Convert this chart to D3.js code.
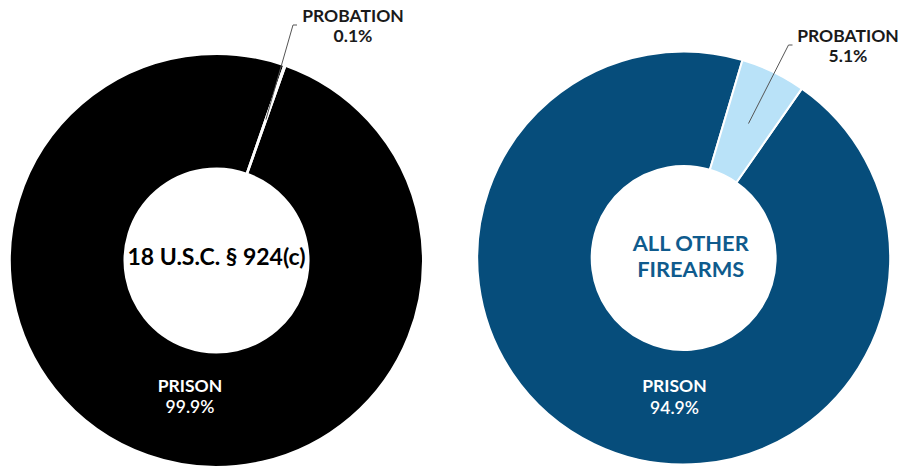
<!DOCTYPE html>
<html>
<head>
<meta charset="utf-8">
<script src="https://cdn.jsdelivr.net/npm/d3@7"></script>
<style>
  body { margin: 0; background: #fff; }
  svg { display: block; font-family: Lato, "Open Sans", sans-serif; }
</style>
</head>
<body>
<svg id="chart" width="901" height="469"></svg>
<script>
// data
const categories = ["PRISON", "PROBATION"];
const offenseLabels = [["18 U.S.C. § 924(c)"], ["ALL OTHER", "FIREARMS"]];
const leftValues = [99.9, 0.1];
const rightValues = [94.9, 5.1];
const valueLabels = [["99.9%", "0.1%"], ["94.9%", "5.1%"]];

const svg = d3.select('#chart');

const donuts = [
    { values: leftValues, cx: 216.5, cy: 260.5, r: 206.5, r0: 92, rot: 19.5,
      colors: ['#000000', '#e6e6e6'], titleColor: '#000000', titleDx: 0, titleDy: 4.5, titleSize: 23,
      prisonPos: [190, 391.5], probPos: [353, 21.5], leaderEnd: [293, 25] },
    { values: rightValues, cx: 683.7, cy: 258, r: 206.5, r0: 92, rot: 34.9,
      colors: ['#064d7b', '#b9e2f8'], titleColor: '#0f5b8d', titleDx: 7, titleDy: 6.2, titleSize: 21.8,
      prisonPos: [674.5, 392], probPos: [848, 41.5], leaderEnd: [788.5, 45] }
];

donuts.forEach((d, k) => {
    const g = svg.append('g').attr('transform', `translate(${d.cx},${d.cy})`);
    const pie = d3.pie().sort(null)
        .startAngle(d.rot * Math.PI / 180)
        .endAngle(d.rot * Math.PI / 180 + 2 * Math.PI);
    const arc = d3.arc().innerRadius(d.r0).outerRadius(d.r);
    const arcs = pie(d.values);

    g.selectAll('path')
        .data(arcs)
        .join('path')
        .attr('d', arc)
        .attr('fill', (a, i) => d.colors[i])
        .attr('stroke', '#fff')
        .attr('stroke-width', 2);

    // leader line for the small slice
    const c = arc.centroid(arcs[1]);
    const ex = d.leaderEnd[0] - d.cx, ey = d.leaderEnd[1] - d.cy;
    g.append('polyline')
        .attr('points', `${c[0]},${c[1]} ${ex},${ey} ${ex + 4},${ey}`)
        .attr('fill', 'none')
        .attr('stroke', '#555')
        .attr('stroke-width', 1);

    // centre title
    const lines = offenseLabels[k];
    const lh = 26.2;
    g.append('text')
        .attr('text-anchor', 'middle')
        .attr('fill', d.titleColor)
        .style('font-size', d.titleSize + 'px')
        .style('font-weight', 700)
        .selectAll('tspan')
        .data(lines)
        .join('tspan')
        .attr('x', d.titleDx)
        .attr('y', (t, i) => d.titleDy + (i - (lines.length - 1) / 2) * lh)
        .text(t => t);

    // prison label
    const pt = svg.append('text')
        .attr('text-anchor', 'middle')
        .attr('fill', '#fff')
        .style('font-size', '17.5px')
        .style('font-weight', 700);
    pt.append('tspan').attr('x', d.prisonPos[0]).attr('y', d.prisonPos[1]).text(categories[0]);
    pt.append('tspan').attr('x', d.prisonPos[0]).attr('y', d.prisonPos[1] + 21.5)
        .style('font-weight', 600).text(valueLabels[k][0]);

    // probation label
    const bt = svg.append('text')
        .attr('text-anchor', 'middle')
        .attr('fill', '#1a1a1a')
        .style('font-size', '17.5px')
        .style('font-weight', 700);
    bt.append('tspan').attr('x', d.probPos[0]).attr('y', d.probPos[1]).text(categories[1]);
    bt.append('tspan').attr('x', d.probPos[0]).attr('y', d.probPos[1] + 20.5).text(valueLabels[k][1]);
});
</script>
</body>
</html>
